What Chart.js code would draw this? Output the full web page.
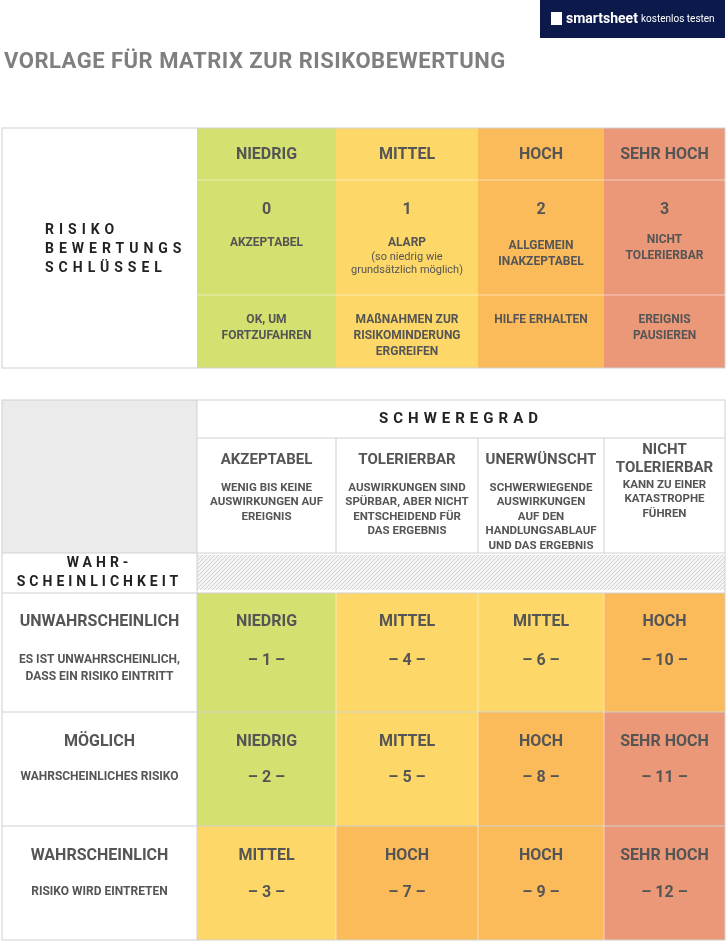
<!DOCTYPE html>
<html><head><meta charset="utf-8">
<script src="https://cdn.jsdelivr.net/npm/chart.js@4"></script>
<style>body{margin:0;background:#fff}#wrap{width:728px;height:943px}</style>
</head><body><div id="wrap"><canvas id="c" width="728" height="943"></canvas></div>
<script>
// data
const levels = ["NIEDRIG", "MITTEL", "HOCH", "SEHR HOCH"];
const levelScores = ["0", "1", "2", "3"];
const levelTitles = [["AKZEPTABEL"], ["ALARP"], ["ALLGEMEIN", "INAKZEPTABEL"], ["NICHT", "TOLERIERBAR"]];
const levelActions = [["OK, UM", "FORTZUFAHREN"], ["MAßNAHMEN ZUR", "RISIKOMINDERUNG", "ERGREIFEN"], ["HILFE ERHALTEN"], ["EREIGNIS", "PAUSIEREN"]];
const severity = [["AKZEPTABEL"], ["TOLERIERBAR"], ["UNERWÜNSCHT"], ["NICHT", "TOLERIERBAR"]];
const severityDesc = [["WENIG BIS KEINE", "AUSWIRKUNGEN AUF", "EREIGNIS"],
    ["AUSWIRKUNGEN SIND", "SPÜRBAR, ABER NICHT", "ENTSCHEIDEND FÜR", "DAS ERGEBNIS"],
    ["SCHWERWIEGENDE", "AUSWIRKUNGEN", "AUF DEN", "HANDLUNGSABLAUF", "UND DAS ERGEBNIS"],
    ["KANN ZU EINER", "KATASTROPHE", "FÜHREN"]];
const likelihood = ["UNWAHRSCHEINLICH", "MÖGLICH", "WAHRSCHEINLICH"];
const likelihoodDesc = [["ES IST UNWAHRSCHEINLICH,", "DASS EIN RISIKO EINTRITT"], ["WAHRSCHEINLICHES RISIKO"], ["RISIKO WIRD EINTRETEN"]];
const matrixLevel = [[0, 1, 1, 2], [0, 1, 2, 3], [1, 2, 2, 3]];
const matrixScore = [[1, 4, 6, 10], [2, 5, 8, 11], [3, 7, 9, 12]];

const levelColors = ["#d4e06f", "#fdd868", "#fcbb5b", "#eb9878"];
const colX = [2, 197, 336, 478, 604, 725];
const topRows = [128, 180, 295, 368];
const botRows = [400, 438, 553, 593, 712, 826, 940];
const TXT = "#555";
const FONT = '"Liberation Sans Narrow", Roboto, sans-serif';

const gridPlugin = {
    id: "grid",
    afterDraw(chart) {
        const ctx = chart.ctx, sx = chart.scales.x, sy = chart.scales.y;
        const X = v => sx.getPixelForValue(v), Y = v => sy.getPixelForValue(v);
        const rect = (x0, y0, x1, y1, fill) => {
            ctx.fillStyle = fill;
            ctx.fillRect(X(x0), Y(y0), X(x1) - X(x0), Y(y1) - Y(y0));
        };
        const line = (x0, y0, x1, y1) => {
            ctx.beginPath(); ctx.moveTo(X(x0), Y(y0)); ctx.lineTo(X(x1), Y(y1)); ctx.stroke();
        };
        const text = (lines, cx, y, size, lh, opts = {}) => {
            ctx.font = (opts.weight || "bold") + " " + size + "px " + FONT;
            ctx.fillStyle = opts.color || TXT;
            ctx.textAlign = opts.align || "center";
            ctx.textBaseline = "middle";
            ctx.letterSpacing = opts.spacing || "0px";
            lines.forEach((l, i) => ctx.fillText(l, X(cx), Y(y + i * lh)));
            ctx.letterSpacing = "0px";
        };
        const mid = i => (colX[i] + colX[i + 1]) / 2;

        ctx.save();
        // logo + title
        rect(540, 0, 725, 38, "#0b1a4b");
        ctx.fillStyle = "#fff"; ctx.fillRect(X(551), Y(12), 11, 13);
        text(["smartsheet"], 566, 19, 14, 0, { color: "#fff", align: "left", weight: "bold" });
        text(["kostenlos testen"], 641, 19, 10, 0, { color: "#fff", align: "left", weight: "normal" });
        text(["VORLAGE FÜR MATRIX ZUR RISIKOBEWERTUNG"], 4, 62, 22, 0, { color: "#7f7f7f", align: "left", spacing: "0.5px" });

        // top table
        for (let c = 0; c < 4; c++) rect(colX[c + 1], topRows[0], colX[c + 2], topRows[3], levelColors[c]);
        ctx.strokeStyle = "#d0d0d0"; ctx.lineWidth = 1;
        ctx.strokeRect(X(colX[0]), Y(topRows[0]), X(colX[5]) - X(colX[0]), Y(topRows[3]) - Y(topRows[0]));
        ctx.strokeStyle = "rgba(255,255,255,0.5)";
        line(colX[1], topRows[1], colX[5], topRows[1]);
        line(colX[1], topRows[2], colX[5], topRows[2]);
        text(["RISIKO", "BEWERTUNGS", "SCHLÜSSEL"], 45, 230, 14, 19, { color: "#222", align: "left", spacing: "5px" });
        for (let c = 0; c < 4; c++) {
            const cx = mid(c + 1);
            text([levels[c]], cx, 155, 16, 0);
            text([levelScores[c]], cx, 210, 16, 0);
            const t = levelTitles[c];
            text(t, cx, t.length > 1 ? (c === 3 ? 240 : 246) : 243, 12, 16);
            if (c === 1) text(["(so niedrig wie", "grundsätzlich möglich)"], cx, 257, 11, 13, { weight: "normal" });
            text(levelActions[c], cx, 320, 12, 16);
        }

        // bottom table
        rect(colX[0], botRows[0], colX[1], botRows[2], "#ebebeb");
        // hatched band
        rect(colX[1], botRows[2] + 2, colX[5], botRows[3] - 3, "#f4f4f4");
        ctx.save();
        ctx.beginPath();
        ctx.rect(X(colX[1]), Y(botRows[2] + 2), X(colX[5]) - X(colX[1]), Y(botRows[3] - 3) - Y(botRows[2] + 2));
        ctx.clip();
        ctx.strokeStyle = "#bbb"; ctx.lineWidth = 0.6;
        for (let x = colX[1] - 40; x < colX[5]; x += 4) line(x, botRows[3], x + 40, botRows[2]);
        ctx.restore();
        for (let r = 0; r < 3; r++)
            for (let c = 0; c < 4; c++)
                rect(colX[c + 1], botRows[r + 3], colX[c + 2], botRows[r + 4], levelColors[matrixLevel[r][c]]);

        ctx.strokeStyle = "#d0d0d0"; ctx.lineWidth = 1;
        ctx.strokeRect(X(colX[0]), Y(botRows[0]), X(colX[5]) - X(colX[0]), Y(botRows[6]) - Y(botRows[0]));
        line(colX[1], botRows[0], colX[1], botRows[6]);
        line(colX[1], botRows[1], colX[5], botRows[1]);
        for (let i = 2; i <= 5; i++) line(colX[0], botRows[i], colX[5], botRows[i]);
        for (let c = 2; c <= 4; c++) line(colX[c], botRows[1], colX[c], botRows[2]);
        ctx.strokeStyle = "rgba(255,255,255,0.5)";
        for (let c = 2; c <= 4; c++) line(colX[c], botRows[3], colX[c], botRows[6]);

        text(["SCHWEREGRAD"], (colX[1] + colX[5]) / 2, 419, 15, 0, { color: "#222", spacing: "5px" });
        for (let c = 0; c < 4; c++) {
            const cx = mid(c + 1);
            const h = severity[c];
            text(h, cx, h.length > 1 ? 450 : 460, 15, 18);
            text(severityDesc[c], cx, c === 3 ? 485 : 488, 11.5, 14.5);
        }
        text(["WAHR-", "SCHEINLICHKEIT"], mid(0), 563, 14, 19, { color: "#222", spacing: "4px" });
        const rowY = [622, 742, 856], descY = [660, 777, 892];
        for (let r = 0; r < 3; r++) {
            text([likelihood[r]], mid(0), rowY[r], 16, 0);
            text(likelihoodDesc[r], mid(0), descY[r], 12, 17);
            for (let c = 0; c < 4; c++) {
                const cx = mid(c + 1);
                text([levels[matrixLevel[r][c]]], cx, rowY[r], 16, 0);
                text(["– " + matrixScore[r][c] + " –"], cx, descY[r] + 1, 16, 0);
            }
        }
        ctx.restore();
    }
};

new Chart(document.getElementById("c"), {
    type: "scatter",
    data: { datasets: [{ data: [] }] },
    options: {
        responsive: false,
        animation: false,
        layout: { padding: 0 },
        plugins: { legend: { display: false }, tooltip: { enabled: false } },
        scales: {
            x: { type: "linear", min: 0, max: 728, display: false },
            y: { type: "linear", min: 0, max: 943, reverse: true, display: false }
        }
    },
    plugins: [gridPlugin]
});
</script>
</body></html>
